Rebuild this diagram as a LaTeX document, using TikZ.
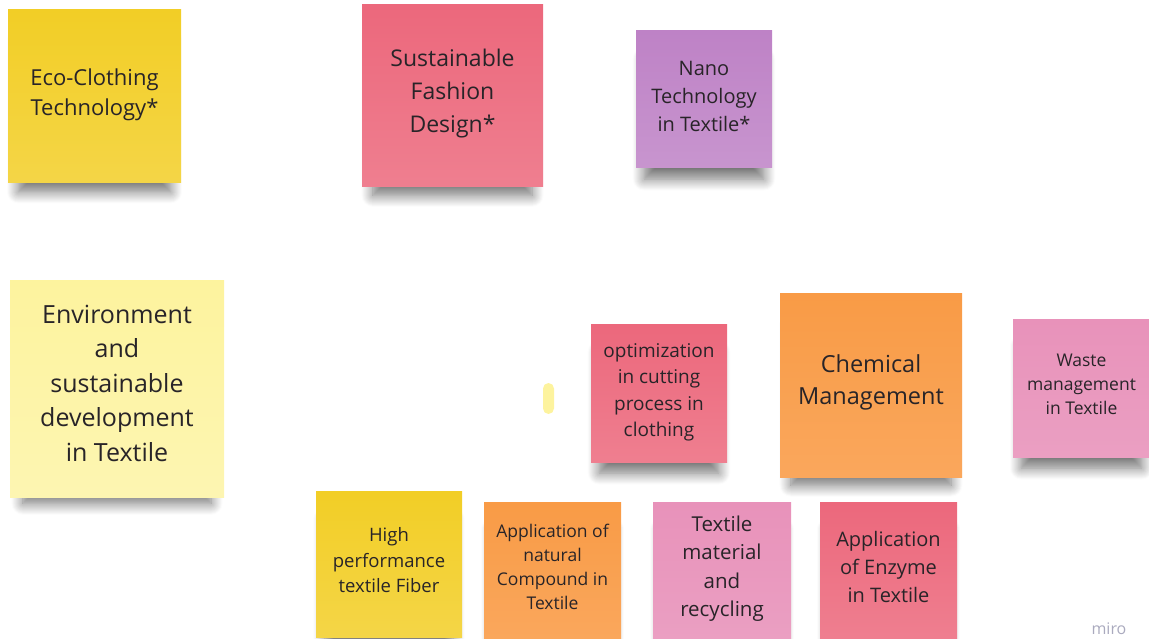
\documentclass[tikz,border=0pt]{standalone}
\usepackage{fontspec}
\setmainfont{Open Sans}
\usetikzlibrary{shadows.blur}

\definecolor{ink}{RGB}{40,36,40}
\definecolor{noteyellow}{RGB}{242,206,38}
\definecolor{notered}{RGB}{236,104,124}
\definecolor{notepurple}{RGB}{190,130,198}
\definecolor{notelight}{RGB}{253,243,158}
\definecolor{noteorange}{RGB}{249,155,70}
\definecolor{notepink}{RGB}{232,146,186}
\definecolor{brandgray}{RGB}{170,170,190}

\tikzset{
  sticky/.style={rectangle, inner sep=0pt,
    blur shadow={shadow xshift=0pt, shadow yshift=-22pt, shadow scale=0.88,
      shadow opacity=55, shadow blur radius=13pt, shadow blur steps=12}},
  notesize/.style 2 args={minimum width=#1pt, minimum height=#2pt},
  notetext/.style={align=center, text=ink, inner sep=0pt},
  yellownote/.style={sticky, top color=noteyellow, bottom color=noteyellow!85!white},
  rednote/.style={sticky, top color=notered, bottom color=notered!85!white},
  purplenote/.style={sticky, top color=notepurple, bottom color=notepurple!85!white},
  lightnote/.style={sticky, top color=notelight, bottom color=notelight!80!white},
  orangenote/.style={sticky, top color=noteorange, bottom color=noteorange!88!white},
  pinknote/.style={sticky, top color=notepink, bottom color=notepink!88!white}
}

\begin{document}
\begin{tikzpicture}[x=1pt, y=-1pt]
  \useasboundingbox (0,0) rectangle (1149,639);
  \clip (0,0) rectangle (1149,639);

  % top row
  \node [yellownote, notesize={173}{173},
    label={[notetext, yshift=2pt, font=\fontsize{22}{30}\selectfont]center:{Eco-Clothing\\Technology*}}] (eco) at (94.5,96.5) {};

  \node [rednote, notesize={181}{182},
    label={[notetext, yshift=2pt, font=\fontsize{23}{33}\selectfont]center:{Sustainable\\Fashion\\Design*}}] (fashion) at (452.5,96) {};

  \node [purplenote, notesize={136}{137},
    label={[notetext, yshift=3pt, font=\fontsize{20}{28}\selectfont]center:{Nano\\Technology\\in Textile*}}] (nano) at (704,99.5) {};

  % middle row
  \node [lightnote, notesize={214}{216},
    label={[notetext, yshift=6pt, font=\fontsize{25}{34.5}\selectfont]center:{Environment\\and\\sustainable\\development\\in Textile}}] (env) at (117,389) {};

  \node [fill=notelight, rounded corners=5.5pt, minimum width=11pt, minimum height=31pt, inner sep=0pt] (pill) at (548.5,398.5) {};

  \node [rednote, notesize={136}{138},
    label={[notetext, yshift=0.5pt, font=\fontsize{19}{26.5}\selectfont]center:{optimization\\in cutting\\process in\\clothing}}] (cutting) at (659,393) {};

  \node [orangenote, notesize={182}{184},
    label={[notetext, yshift=3pt, font=\fontsize{23.5}{32}\selectfont]center:{Chemical\\Management}}] (chem) at (871,385) {};

  \node [pinknote, notesize={137}{138},
    label={[notetext, yshift=3.5pt, font=\fontsize{17.5}{24}\selectfont]center:{Waste\\management\\in Textile}}] (waste) at (1081.5,388) {};

  % bottom row
  \node [yellownote, notesize={146}{146},
    label={[notetext, yshift=3.5pt, font=\fontsize{18.5}{25.5}\selectfont]center:{High\\performance\\textile Fiber}}] (fiber) at (389,564) {};

  \node [orangenote, notesize={137}{137},
    label={[notetext, yshift=4pt, font=\fontsize{17.5}{24}\selectfont]center:{Application of\\natural\\Compound in\\Textile}}] (natural) at (552.5,570.5) {};

  \node [pinknote, notesize={138}{138},
    label={[notetext, yshift=2.5pt, font=\fontsize{20.5}{28.5}\selectfont]center:{Textile\\material\\and\\recycling}}] (recycling) at (722,571) {};

  \node [rednote, notesize={137}{137},
    label={[notetext, yshift=4pt, font=\fontsize{20}{28}\selectfont]center:{Application\\of Enzyme\\in Textile}}] (enzyme) at (888.5,570.5) {};

  \node [text=brandgray, font=\fontsize{16}{18}\selectfont] (brand) at (1109,629) {miro};
\end{tikzpicture}
\end{document}
